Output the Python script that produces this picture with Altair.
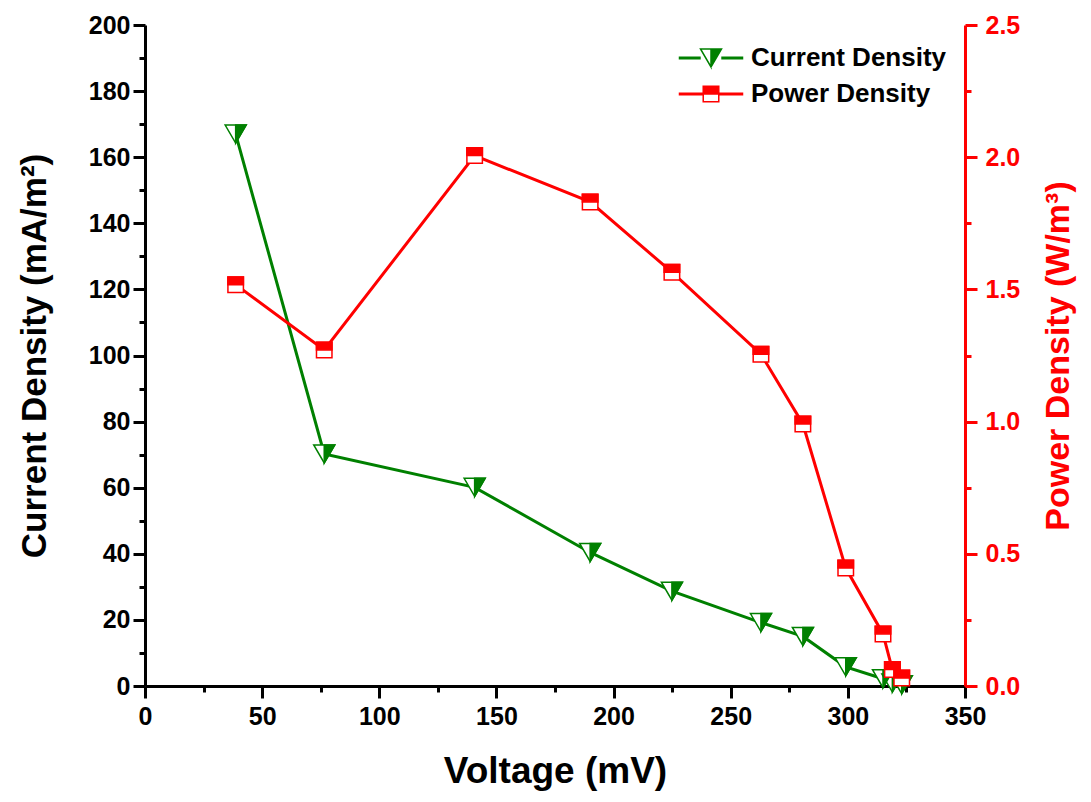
import altair as alt
import pandas as pd

# ---- data ----
voltage = [38.7, 76.5, 140.7, 190.0, 224.9, 262.9, 280.8, 299.1, 315.0, 319.0, 323.0]
current = [167.0, 70.2, 60.1, 40.4, 28.7, 19.2, 15.0, 5.8, 2.2, 0.9, 0.4]
power = [1.518, 1.271, 2.006, 1.831, 1.565, 1.255, 0.991, 0.446, 0.197, 0.062, 0.030]
series = ["Current Density", "Power Density"]
x_ticks = list(range(0, 351, 25))
y_left_ticks = list(range(0, 201, 10))
y_right_ticks = [i * 0.25 for i in range(11)]

df = pd.DataFrame({"V": voltage, "C": current, "P": power})

FONT = "Liberation Sans"
GREEN = "#008000"
RED = "#ff0000"

# marker shapes (custom paths, unit square -1..1)
TRI = "M-1,-0.857 L1,-0.857 L0,0.857 Z"
TRI_HALF = "M0,-0.857 L1,-0.857 L0,0.857 Z"
SQ = "M-1,-1 L1,-1 L1,1 L-1,1 Z"
SQ_HALF = "M-1,-1 L1,-1 L1,0 L-1,0 Z"
s = 0.74
LEG_TRI = ("M-3,-0.07 L-1.05,-0.07 L-1.05,0.07 L-3,0.07 Z "
           "M1.05,-0.07 L3,-0.07 L3,0.07 L1.05,0.07 Z "
           "M-1,-0.857 L1,-0.857 L0,0.857 Z "
           "M0,-0.857 L-1,-0.857 L0,0.857 Z")
LEG_SQ = (f"M-3,-0.07 L-{s},-0.07 L-{s},0.07 L-3,0.07 Z "
          f"M{s},-0.07 L3,-0.07 L3,0.07 L{s},0.07 Z "
          f"M-{s},-{s} L{s},-{s} L{s},{s} L-{s},{s} Z "
          f"M-{s},0 L-{s},{s} L{s},{s} L{s},0 Z")


def tick_size(step):
    return {"condition": {"test": f"abs(datum.value / {step} - round(datum.value / {step})) < 1e-6", "value": 12}, "value": 6}


x_enc = alt.X(
    "V:Q",
    scale=alt.Scale(domain=[0, 350], nice=False, zero=False),
    axis=alt.Axis(
        values=x_ticks, title="Voltage (mV)",
        labelExpr="datum.value % 50 === 0 ? datum.label : ''",
        tickSize=tick_size(50), labelPadding=6, titlePadding=24,
        titleFontSize=37, labelFlush=False, labelOverlap=False,
        domainColor="black", tickColor="black",
    ),
)

y_left = alt.Y(
    "C:Q",
    scale=alt.Scale(domain=[0, 200], nice=False),
    axis=alt.Axis(
        values=y_left_ticks, title="Current Density (mA/m²)",
        labelExpr="datum.value % 20 === 0 ? datum.label : ''",
        tickSize=tick_size(20), labelPadding=3, titlePadding=36,
        titleFontSize=35, labelOverlap=False,
        domainColor="black", tickColor="black",
    ),
)

y_right = alt.Y(
    "P:Q",
    scale=alt.Scale(domain=[0, 2.5], nice=False),
    axis=alt.Axis(
        orient="right",
        values=y_right_ticks, title="Power Density (W/m³)",
        labelExpr="abs(datum.value / 0.5 - round(datum.value / 0.5)) < 1e-6 ? format(datum.value, '.1f') : ''",
        tickSize=tick_size(0.5), labelPadding=8, titlePadding=22,
        titleFontSize=34, titleAngle=270, titleBaseline="top", labelOverlap=False,
        domainColor=RED, tickColor=RED, labelColor=RED, titleColor=RED,
    ),
)

base = alt.Chart(df)

green_line = base.mark_line(color=GREEN, strokeWidth=3).encode(x=x_enc, y=y_left)
green_out = base.mark_point(shape=TRI, size=441, filled=True, fill="white", stroke=GREEN,
                            strokeWidth=1.5, opacity=1).encode(x=x_enc, y=y_left)
green_half = base.mark_point(shape=TRI_HALF, size=441, filled=True, fill=GREEN, stroke=GREEN,
                             strokeWidth=1.5, opacity=1).encode(x=x_enc, y=y_left)

leg = alt.Legend(
    title=None, orient="none", legendX=553, legendY=20, direction="vertical",
    symbolSize=441, symbolStrokeWidth=1.5, symbolOpacity=1,
    labelFont=FONT, labelFontSize=26, labelFontWeight="bold", labelColor="black",
    labelOffset=27, rowPadding=10, padding=0, labelLimit=500,
)
legend_layer = base.transform_calculate(s="'Current Density'").transform_filter("false").mark_point(
    filled=True, opacity=1, strokeWidth=1.5
).encode(
    x=x_enc, y=y_left,
    fill=alt.Fill("s:N", scale=alt.Scale(domain=series, range=[GREEN, RED]), legend=leg),
    stroke=alt.Stroke("s:N", scale=alt.Scale(domain=series, range=[GREEN, RED]), legend=leg),
    shape=alt.Shape("s:N", scale=alt.Scale(domain=series, range=[LEG_TRI, LEG_SQ]), legend=leg),
)

left = alt.layer(green_line, green_out, green_half, legend_layer)

red_line = base.mark_line(color=RED, strokeWidth=3).encode(x=x_enc, y=y_right)
red_out = base.mark_point(shape=SQ, size=240, filled=True, fill="white", stroke=RED,
                          strokeWidth=1.5, opacity=1).encode(x=x_enc, y=y_right)
red_half = base.mark_point(shape=SQ_HALF, size=240, filled=True, fill=RED, stroke=RED,
                           strokeWidth=1.5, opacity=1).encode(x=x_enc, y=y_right)

right = alt.layer(red_line, red_out, red_half)

chart = alt.layer(left, right).resolve_scale(y="independent").properties(
    width=820, height=661,
    autosize=alt.AutoSizeParams(type="none"),
    padding={"left": 137, "top": 17, "right": 116, "bottom": 114},
).configure_view(stroke=None).configure_axis(
    labelFont=FONT, labelFontWeight="bold", labelFontSize=25,
    titleFont=FONT, titleFontWeight="bold", titleColor="black",
    labelColor="black", domainWidth=3, tickWidth=3, grid=False,
)

chart.save("out.html", embed_options={"renderer": "svg", "actions": False})
